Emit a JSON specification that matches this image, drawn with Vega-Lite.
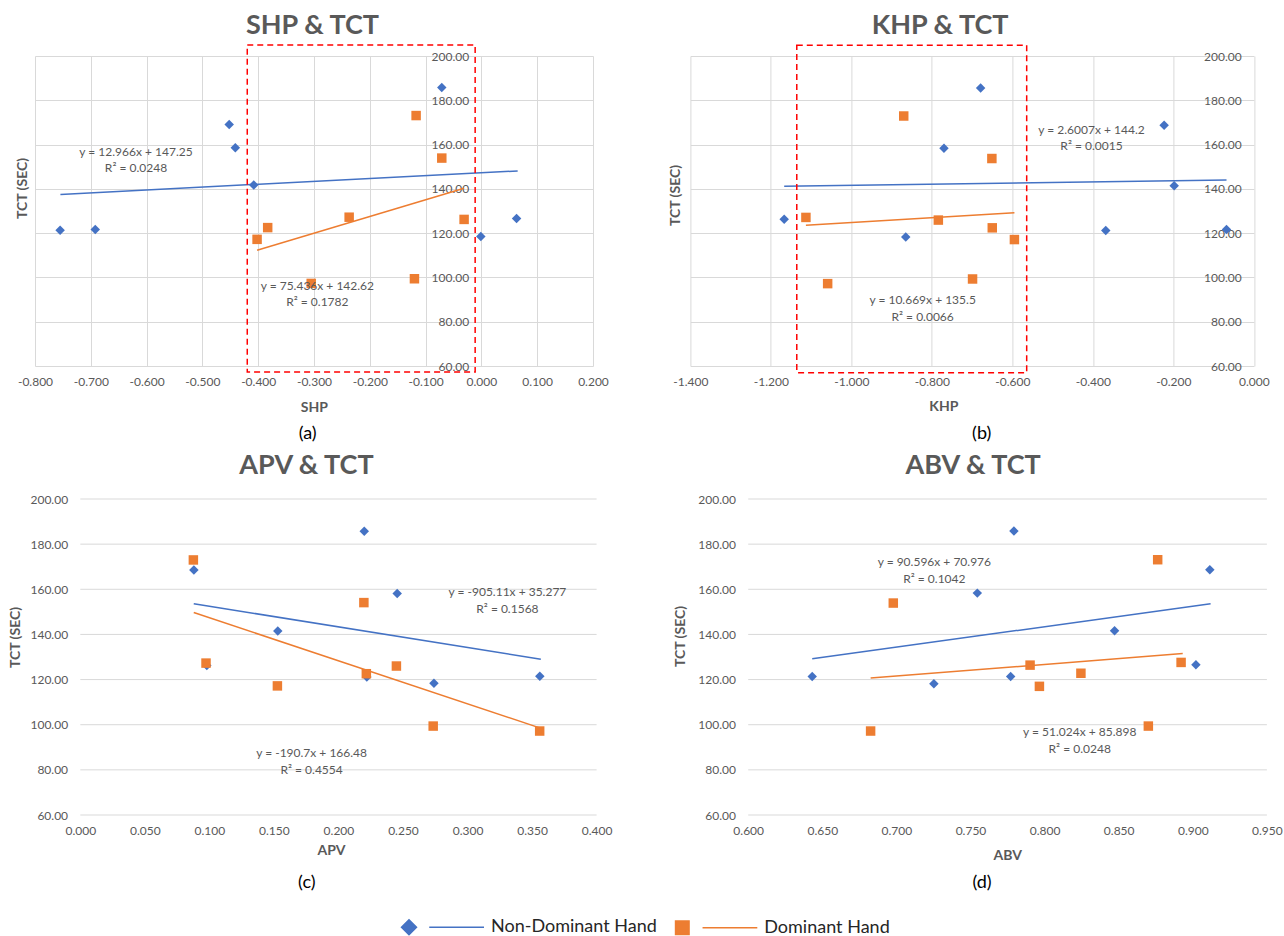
{
  "$schema": "https://vega.github.io/schema/vega-lite/v6.json",
  "background": "white",
  "padding": {"left": 8, "top": 11, "right": 0, "bottom": 0},
  "datasets": {
    "pts": [
      {"p": "a", "hand": "Non-Dominant Hand", "x": -0.755, "tct": 121.3},
      {"p": "a", "hand": "Non-Dominant Hand", "x": -0.692, "tct": 121.6},
      {"p": "a", "hand": "Non-Dominant Hand", "x": -0.452, "tct": 169.1},
      {"p": "a", "hand": "Non-Dominant Hand", "x": -0.441, "tct": 158.6},
      {"p": "a", "hand": "Non-Dominant Hand", "x": -0.408, "tct": 141.7},
      {"p": "a", "hand": "Non-Dominant Hand", "x": -0.071, "tct": 185.8},
      {"p": "a", "hand": "Non-Dominant Hand", "x": -0.001, "tct": 118.5},
      {"p": "a", "hand": "Non-Dominant Hand", "x": 0.063, "tct": 126.6},
      {"p": "a", "hand": "Dominant Hand", "x": -0.117, "tct": 173.1},
      {"p": "a", "hand": "Dominant Hand", "x": -0.071, "tct": 153.9},
      {"p": "a", "hand": "Dominant Hand", "x": -0.402, "tct": 117.2},
      {"p": "a", "hand": "Dominant Hand", "x": -0.383, "tct": 122.5},
      {"p": "a", "hand": "Dominant Hand", "x": -0.237, "tct": 127.2},
      {"p": "a", "hand": "Dominant Hand", "x": -0.031, "tct": 126.2},
      {"p": "a", "hand": "Dominant Hand", "x": -0.305, "tct": 97.3},
      {"p": "a", "hand": "Dominant Hand", "x": -0.120, "tct": 99.4},
      {"p": "b", "hand": "Non-Dominant Hand", "x": -0.679, "tct": 185.6},
      {"p": "b", "hand": "Non-Dominant Hand", "x": -0.770, "tct": 158.3},
      {"p": "b", "hand": "Non-Dominant Hand", "x": -0.223, "tct": 168.7},
      {"p": "b", "hand": "Non-Dominant Hand", "x": -0.198, "tct": 141.4},
      {"p": "b", "hand": "Non-Dominant Hand", "x": -1.167, "tct": 126.3},
      {"p": "b", "hand": "Non-Dominant Hand", "x": -0.865, "tct": 118.3},
      {"p": "b", "hand": "Non-Dominant Hand", "x": -0.368, "tct": 121.2},
      {"p": "b", "hand": "Non-Dominant Hand", "x": -0.068, "tct": 121.6},
      {"p": "b", "hand": "Dominant Hand", "x": -0.870, "tct": 172.9},
      {"p": "b", "hand": "Dominant Hand", "x": -0.651, "tct": 153.7},
      {"p": "b", "hand": "Dominant Hand", "x": -1.113, "tct": 127.1},
      {"p": "b", "hand": "Dominant Hand", "x": -0.784, "tct": 125.9},
      {"p": "b", "hand": "Dominant Hand", "x": -0.650, "tct": 122.4},
      {"p": "b", "hand": "Dominant Hand", "x": -0.595, "tct": 117.1},
      {"p": "b", "hand": "Dominant Hand", "x": -1.059, "tct": 97.2},
      {"p": "b", "hand": "Dominant Hand", "x": -0.699, "tct": 99.3},
      {"p": "c", "hand": "Non-Dominant Hand", "x": 0.088, "tct": 168.5},
      {"p": "c", "hand": "Non-Dominant Hand", "x": 0.098, "tct": 126.2},
      {"p": "c", "hand": "Non-Dominant Hand", "x": 0.153, "tct": 141.5},
      {"p": "c", "hand": "Non-Dominant Hand", "x": 0.220, "tct": 185.7},
      {"p": "c", "hand": "Non-Dominant Hand", "x": 0.222, "tct": 121.1},
      {"p": "c", "hand": "Non-Dominant Hand", "x": 0.2455, "tct": 158.1},
      {"p": "c", "hand": "Non-Dominant Hand", "x": 0.274, "tct": 118.4},
      {"p": "c", "hand": "Non-Dominant Hand", "x": 0.356, "tct": 121.5},
      {"p": "c", "hand": "Dominant Hand", "x": 0.0876, "tct": 173.0},
      {"p": "c", "hand": "Dominant Hand", "x": 0.0974, "tct": 127.3},
      {"p": "c", "hand": "Dominant Hand", "x": 0.1527, "tct": 117.2},
      {"p": "c", "hand": "Dominant Hand", "x": 0.2197, "tct": 154.1},
      {"p": "c", "hand": "Dominant Hand", "x": 0.2216, "tct": 122.6},
      {"p": "c", "hand": "Dominant Hand", "x": 0.2449, "tct": 126.0},
      {"p": "c", "hand": "Dominant Hand", "x": 0.2734, "tct": 99.4},
      {"p": "c", "hand": "Dominant Hand", "x": 0.3559, "tct": 97.2},
      {"p": "d", "hand": "Non-Dominant Hand", "x": 0.6432, "tct": 121.4},
      {"p": "d", "hand": "Non-Dominant Hand", "x": 0.7253, "tct": 118.2},
      {"p": "d", "hand": "Non-Dominant Hand", "x": 0.7546, "tct": 158.3},
      {"p": "d", "hand": "Non-Dominant Hand", "x": 0.7771, "tct": 121.4},
      {"p": "d", "hand": "Non-Dominant Hand", "x": 0.7793, "tct": 185.8},
      {"p": "d", "hand": "Non-Dominant Hand", "x": 0.8472, "tct": 141.6},
      {"p": "d", "hand": "Non-Dominant Hand", "x": 0.9021, "tct": 126.6},
      {"p": "d", "hand": "Non-Dominant Hand", "x": 0.9115, "tct": 168.7},
      {"p": "d", "hand": "Dominant Hand", "x": 0.6826, "tct": 97.2},
      {"p": "d", "hand": "Dominant Hand", "x": 0.6979, "tct": 153.9},
      {"p": "d", "hand": "Dominant Hand", "x": 0.7902, "tct": 126.4},
      {"p": "d", "hand": "Dominant Hand", "x": 0.7965, "tct": 117.0},
      {"p": "d", "hand": "Dominant Hand", "x": 0.8245, "tct": 122.8},
      {"p": "d", "hand": "Dominant Hand", "x": 0.870, "tct": 99.4},
      {"p": "d", "hand": "Dominant Hand", "x": 0.8763, "tct": 173.1},
      {"p": "d", "hand": "Dominant Hand", "x": 0.8921, "tct": 127.6}
    ],
    "trend": [
      {"p": "a", "hand": "Non-Dominant Hand", "x": -0.7545, "tct": 137.5},
      {"p": "a", "hand": "Non-Dominant Hand", "x": 0.065, "tct": 148.1},
      {"p": "a", "hand": "Dominant Hand", "x": -0.402, "tct": 112.3},
      {"p": "a", "hand": "Dominant Hand", "x": -0.031, "tct": 140.3},
      {"p": "b", "hand": "Non-Dominant Hand", "x": -1.167, "tct": 141.2},
      {"p": "b", "hand": "Non-Dominant Hand", "x": -0.068, "tct": 144.0},
      {"p": "b", "hand": "Dominant Hand", "x": -1.113, "tct": 123.6},
      {"p": "b", "hand": "Dominant Hand", "x": -0.595, "tct": 129.2},
      {"p": "c", "hand": "Non-Dominant Hand", "x": 0.0879, "tct": 153.6},
      {"p": "c", "hand": "Non-Dominant Hand", "x": 0.3568, "tct": 129.0},
      {"p": "c", "hand": "Dominant Hand", "x": 0.0879, "tct": 149.7},
      {"p": "c", "hand": "Dominant Hand", "x": 0.3559, "tct": 98.6},
      {"p": "d", "hand": "Non-Dominant Hand", "x": 0.6432, "tct": 129.2},
      {"p": "d", "hand": "Non-Dominant Hand", "x": 0.912, "tct": 153.6},
      {"p": "d", "hand": "Dominant Hand", "x": 0.6826, "tct": 120.7},
      {"p": "d", "hand": "Dominant Hand", "x": 0.8932, "tct": 131.5}
    ],
    "eqs": [
      {"p": "a", "x": -0.619, "tct": 156.65, "label": "y = 12.966x + 147.25\nR² = 0.0248"},
      {"p": "a", "x": -0.294, "tct": 96.25, "label": "y = 75.436x + 142.62\nR² = 0.1782"},
      {"p": "b", "x": -0.4035, "tct": 166.65, "label": "y = 2.6007x + 144.2\nR² = 0.0015"},
      {"p": "b", "x": -0.823, "tct": 89.75, "label": "y = 10.669x + 135.5\nR² = 0.0066"},
      {"p": "c", "x": 0.3309, "tct": 158.75, "label": "y = -905.11x + 35.277\nR² = 0.1568"},
      {"p": "c", "x": 0.1792, "tct": 87.35, "label": "y = -190.7x + 166.48\nR² = 0.4554"},
      {"p": "d", "x": 0.7256, "tct": 171.9, "label": "y = 90.596x + 70.976\nR² = 0.1042"},
      {"p": "d", "x": 0.8237, "tct": 96.6, "label": "y = 51.024x + 85.898\nR² = 0.0248"}
    ],
    "boxes": [
      {"p": "a", "x1": -0.4196, "x2": -0.0112, "y1": 57.3, "y2": 205.0},
      {"p": "b", "x1": -1.1357, "x2": -0.5645, "y1": 57.0, "y2": 204.9}
    ],
    "ygrid": [
      {"tct": 60}, {"tct": 80}, {"tct": 100}, {"tct": 120}, {"tct": 140}, {"tct": 160}, {"tct": 180}, {"tct": 200}
    ]
  },
  "spacing": 10,
  "resolve": {"scale": {"shape": "independent", "color": "independent"}},
  "vconcat": [
    {
      "spacing": 59.4,
      "hconcat": [
        {
          "width": 558, "height": 310,
          "title": {"text": "SHP & TCT", "dx": -1.5, "offset": 4.5},
          "resolve": {"axis": {"x": "independent", "y": "independent"}},
          "layer": [
            {
              "data": {"name": "pts"}, "transform": [{"filter": "datum.p === 'a'"}],
              "mark": {"type": "point", "filled": true, "size": 90, "opacity": 1},
              "encoding": {
                "x": {"field": "x", "type": "quantitative", "scale": {"domain": [-0.8, 0.2], "nice": false, "zero": false},
                  "axis": {"values": [-0.8, -0.7, -0.6, -0.5, -0.4, -0.3, -0.2, -0.1, 0, 0.1, 0.2], "labelExpr": "(datum.value < 0 ? '-' : '') + format(abs(datum.value), '.3f')", "title": "SHP", "titleX": 278.8, "titleY": 41, "titleBaseline": "middle", "titleAlign": "center"}},
                "y": {"field": "tct", "type": "quantitative", "scale": {"domain": [60, 200], "nice": false, "zero": false},
                  "axis": {"orient": "left", "values": [60, 80, 100, 120, 140, 160, 180, 200], "format": ".2f", "offset": -446.4, "title": null}},
                "color": {"field": "hand", "type": "nominal", "scale": {"domain": ["Non-Dominant Hand", "Dominant Hand"], "range": ["#4472C4", "#ED7D31"]}, "legend": null},
                "shape": {"field": "hand", "type": "nominal", "scale": {"domain": ["Non-Dominant Hand", "Dominant Hand"], "range": ["diamond", "square"]}, "legend": null}
              }
            },
            {
              "data": {"name": "trend"}, "transform": [{"filter": "datum.p === 'a'"}],
              "mark": {"type": "line", "strokeWidth": 1.5},
              "encoding": {
                "x": {"field": "x", "type": "quantitative", "scale": {"domain": [-0.8, 0.2], "nice": false, "zero": false}, "axis": null},
                "y": {"field": "tct", "type": "quantitative", "scale": {"domain": [60, 200], "nice": false, "zero": false},
                  "axis": {"orient": "left", "labels": false, "grid": false, "domain": false, "ticks": false, "title": "TCT (SEC)", "titlePadding": 6, "minExtent": 0, "titleY": 132}},
                "color": {"field": "hand", "type": "nominal", "scale": {"domain": ["Non-Dominant Hand", "Dominant Hand"], "range": ["#4472C4", "#ED7D31"]}, "legend": null}
              }
            },
            {
              "data": {"name": "eqs"}, "transform": [{"filter": "datum.p === 'a'"}],
              "mark": {"type": "text", "fontSize": 12, "color": "#595959", "font": "Lato", "lineBreak": "\n", "lineHeight": 16.5, "align": "center", "baseline": "middle"},
              "encoding": {
                "x": {"field": "x", "type": "quantitative", "scale": {"domain": [-0.8, 0.2], "nice": false, "zero": false},
                  "axis": {"orient": "bottom", "title": "(a)", "labels": false, "grid": false, "domain": false, "ticks": false, "titleFontSize": 18, "titleFontWeight": "normal", "titleColor": "#000000", "titleX": 272.2, "titleY": 67, "titleBaseline": "middle", "titleAlign": "center"}},
                "y": {"field": "tct", "type": "quantitative", "scale": {"domain": [60, 200], "nice": false, "zero": false}, "axis": null},
                "text": {"field": "label"}
              }
            },
            {
              "data": {"name": "boxes"}, "transform": [{"filter": "datum.p === 'a'"}],
              "mark": {"type": "rect", "fillOpacity": 0, "fill": "white", "stroke": "#FF0000", "strokeWidth": 1.5, "strokeDash": [6, 4]},
              "encoding": {
                "x": {"field": "x1", "type": "quantitative", "scale": {"domain": [-0.8, 0.2], "nice": false, "zero": false}, "axis": null},
                "x2": {"field": "x2"},
                "y": {"field": "y1", "type": "quantitative", "scale": {"domain": [60, 200], "nice": false, "zero": false}, "axis": null},
                "y2": {"field": "y2"}
              }
            }
          ]
        },
        {
          "width": 563.5, "height": 310,
          "title": {"text": "KHP & TCT", "dx": -32, "offset": 4.5},
          "resolve": {"axis": {"x": "independent", "y": "independent"}},
          "layer": [
            {
              "data": {"name": "pts"}, "transform": [{"filter": "datum.p === 'b'"}],
              "mark": {"type": "point", "filled": true, "size": 90, "opacity": 1},
              "encoding": {
                "x": {"field": "x", "type": "quantitative", "scale": {"domain": [-1.4, 0], "nice": false, "zero": false},
                  "axis": {"values": [-1.4, -1.2, -1, -0.8, -0.6, -0.4, -0.2, 0], "labelExpr": "(datum.value < 0 ? '-' : '') + format(abs(datum.value), '.3f')", "title": "KHP", "titleX": 253, "titleY": 40, "titleBaseline": "middle", "titleAlign": "center"}},
                "y": {"field": "tct", "type": "quantitative", "scale": {"domain": [60, 200], "nice": false, "zero": false},
                  "axis": {"orient": "left", "values": [60, 80, 100, 120, 140, 160, 180, 200], "format": ".2f", "offset": -563.5, "title": null}},
                "color": {"field": "hand", "type": "nominal", "scale": {"domain": ["Non-Dominant Hand", "Dominant Hand"], "range": ["#4472C4", "#ED7D31"]}, "legend": null},
                "shape": {"field": "hand", "type": "nominal", "scale": {"domain": ["Non-Dominant Hand", "Dominant Hand"], "range": ["diamond", "square"]}, "legend": null}
              }
            },
            {
              "data": {"name": "trend"}, "transform": [{"filter": "datum.p === 'b'"}],
              "mark": {"type": "line", "strokeWidth": 1.5},
              "encoding": {
                "x": {"field": "x", "type": "quantitative", "scale": {"domain": [-1.4, 0], "nice": false, "zero": false}, "axis": null},
                "y": {"field": "tct", "type": "quantitative", "scale": {"domain": [60, 200], "nice": false, "zero": false},
                  "axis": {"orient": "left", "labels": false, "grid": false, "domain": false, "ticks": false, "title": "TCT (SEC)", "titlePadding": 8, "minExtent": 0, "titleY": 139}},
                "color": {"field": "hand", "type": "nominal", "scale": {"domain": ["Non-Dominant Hand", "Dominant Hand"], "range": ["#4472C4", "#ED7D31"]}, "legend": null}
              }
            },
            {
              "data": {"name": "eqs"}, "transform": [{"filter": "datum.p === 'b'"}],
              "mark": {"type": "text", "fontSize": 12, "color": "#595959", "font": "Lato", "lineBreak": "\n", "lineHeight": 16.5, "align": "center", "baseline": "middle"},
              "encoding": {
                "x": {"field": "x", "type": "quantitative", "scale": {"domain": [-1.4, 0], "nice": false, "zero": false},
                  "axis": {"orient": "bottom", "title": "(b)", "labels": false, "grid": false, "domain": false, "ticks": false, "titleFontSize": 18, "titleFontWeight": "normal", "titleColor": "#000000", "titleX": 290.8, "titleY": 67, "titleBaseline": "middle", "titleAlign": "center"}},
                "y": {"field": "tct", "type": "quantitative", "scale": {"domain": [60, 200], "nice": false, "zero": false}, "axis": null},
                "text": {"field": "label"}
              }
            },
            {
              "data": {"name": "boxes"}, "transform": [{"filter": "datum.p === 'b'"}],
              "mark": {"type": "rect", "fillOpacity": 0, "fill": "white", "stroke": "#FF0000", "strokeWidth": 1.5, "strokeDash": [6, 4]},
              "encoding": {
                "x": {"field": "x1", "type": "quantitative", "scale": {"domain": [-1.4, 0], "nice": false, "zero": false}, "axis": null},
                "x2": {"field": "x2"},
                "y": {"field": "y1", "type": "quantitative", "scale": {"domain": [60, 200], "nice": false, "zero": false}, "axis": null},
                "y2": {"field": "y2"}
              }
            }
          ]
        }
      ]
    },
    {
      "spacing": 61.2,
      "hconcat": [
        {
          "width": 561.6, "height": 316,
          "title": {"text": "APV & TCT", "dx": -9.4, "offset": 13},
          "resolve": {"axis": {"x": "independent"}},
          "layer": [
            {
              "data": {"name": "ygrid"},
              "mark": {"type": "rule", "color": "#d9d9d9", "strokeWidth": 1},
              "encoding": {
                "x": {"datum": 0, "type": "quantitative", "scale": {"domain": [0, 0.4], "range": [45.3, 561.6], "nice": false, "zero": false}, "axis": null},
                "x2": {"datum": 0.4},
                "y": {"field": "tct", "type": "quantitative", "scale": {"domain": [60, 200], "nice": false, "zero": false}}
              }
            },
            {
              "data": {"name": "pts"}, "transform": [{"filter": "datum.p === 'c'"}],
              "mark": {"type": "point", "filled": true, "size": 90, "opacity": 1},
              "encoding": {
                "x": {"field": "x", "type": "quantitative", "scale": {"domain": [0, 0.4], "range": [45.3, 561.6], "nice": false, "zero": false},
                  "axis": {"values": [0, 0.05, 0.1, 0.15, 0.2, 0.25, 0.3, 0.35, 0.4], "format": ".3f", "title": "APV", "titleX": 295.9, "titleY": 35, "titleBaseline": "middle", "titleAlign": "center"}},
                "y": {"field": "tct", "type": "quantitative", "scale": {"domain": [60, 200], "nice": false, "zero": false},
                  "axis": {"orient": "left", "offset": -45.3, "grid": false, "values": [60, 80, 100, 120, 140, 160, 180, 200], "format": ".2f", "title": "TCT (SEC)", "titlePadding": 7, "minExtent": 0, "titleY": 138}},
                "color": {"field": "hand", "type": "nominal", "scale": {"domain": ["Non-Dominant Hand", "Dominant Hand"], "range": ["#4472C4", "#ED7D31"]}, "legend": null},
                "shape": {"field": "hand", "type": "nominal", "scale": {"domain": ["Non-Dominant Hand", "Dominant Hand"], "range": ["diamond", "square"]}, "legend": null}
              }
            },
            {
              "data": {"name": "trend"}, "transform": [{"filter": "datum.p === 'c'"}],
              "mark": {"type": "line", "strokeWidth": 1.5},
              "encoding": {
                "x": {"field": "x", "type": "quantitative", "scale": {"domain": [0, 0.4], "range": [45.3, 561.6], "nice": false, "zero": false}, "axis": null},
                "y": {"field": "tct", "type": "quantitative", "scale": {"domain": [60, 200], "nice": false, "zero": false}},
                "color": {"field": "hand", "type": "nominal", "scale": {"domain": ["Non-Dominant Hand", "Dominant Hand"], "range": ["#4472C4", "#ED7D31"]}, "legend": null}
              }
            },
            {
              "data": {"name": "eqs"}, "transform": [{"filter": "datum.p === 'c'"}],
              "mark": {"type": "text", "fontSize": 12, "color": "#595959", "font": "Lato", "lineBreak": "\n", "lineHeight": 16.5, "align": "center", "baseline": "middle"},
              "encoding": {
                "x": {"field": "x", "type": "quantitative", "scale": {"domain": [0, 0.4], "range": [45.3, 561.6], "nice": false, "zero": false},
                  "axis": {"orient": "bottom", "title": "(c)", "labels": false, "grid": false, "domain": false, "ticks": false, "titleFontSize": 18, "titleFontWeight": "normal", "titleColor": "#000000", "titleX": 271.3, "titleY": 67, "titleBaseline": "middle", "titleAlign": "center"}},
                "y": {"field": "tct", "type": "quantitative", "scale": {"domain": [60, 200], "nice": false, "zero": false}},
                "text": {"field": "label"}
              }
            }
          ]
        },
        {
          "width": 576.7, "height": 316,
          "title": {"text": "ABV & TCT", "dx": -5.4, "offset": 13},
          "resolve": {"axis": {"x": "independent"}},
          "layer": [
            {
              "data": {"name": "ygrid"},
              "mark": {"type": "rule", "color": "#d9d9d9", "strokeWidth": 1},
              "encoding": {
                "x": {"datum": 0.6, "type": "quantitative", "scale": {"domain": [0.6, 0.95], "range": [58, 576.7], "nice": false, "zero": false}, "axis": null},
                "x2": {"datum": 0.95},
                "y": {"field": "tct", "type": "quantitative", "scale": {"domain": [60, 200], "nice": false, "zero": false}}
              }
            },
            {
              "data": {"name": "pts"}, "transform": [{"filter": "datum.p === 'd'"}],
              "mark": {"type": "point", "filled": true, "size": 90, "opacity": 1},
              "encoding": {
                "x": {"field": "x", "type": "quantitative", "scale": {"domain": [0.6, 0.95], "range": [58, 576.7], "nice": false, "zero": false},
                  "axis": {"values": [0.6, 0.65, 0.7, 0.75, 0.8, 0.85, 0.9, 0.95], "format": ".3f", "title": "ABV", "titleX": 317.1, "titleY": 40, "titleBaseline": "middle", "titleAlign": "center"}},
                "y": {"field": "tct", "type": "quantitative", "scale": {"domain": [60, 200], "nice": false, "zero": false},
                  "axis": {"orient": "left", "offset": -58, "grid": false, "values": [60, 80, 100, 120, 140, 160, 180, 200], "format": ".2f", "title": "TCT (SEC)", "titlePadding": 10.5, "minExtent": 0, "titleY": 137}},
                "color": {"field": "hand", "type": "nominal", "scale": {"domain": ["Non-Dominant Hand", "Dominant Hand"], "range": ["#4472C4", "#ED7D31"]}, "legend": null},
                "shape": {"field": "hand", "type": "nominal", "scale": {"domain": ["Non-Dominant Hand", "Dominant Hand"], "range": ["diamond", "square"]}, "legend": null}
              }
            },
            {
              "data": {"name": "trend"}, "transform": [{"filter": "datum.p === 'd'"}],
              "mark": {"type": "line", "strokeWidth": 1.5},
              "encoding": {
                "x": {"field": "x", "type": "quantitative", "scale": {"domain": [0.6, 0.95], "range": [58, 576.7], "nice": false, "zero": false}, "axis": null},
                "y": {"field": "tct", "type": "quantitative", "scale": {"domain": [60, 200], "nice": false, "zero": false}},
                "color": {"field": "hand", "type": "nominal", "scale": {"domain": ["Non-Dominant Hand", "Dominant Hand"], "range": ["#4472C4", "#ED7D31"]}, "legend": null}
              }
            },
            {
              "data": {"name": "eqs"}, "transform": [{"filter": "datum.p === 'd'"}],
              "mark": {"type": "text", "fontSize": 12, "color": "#595959", "font": "Lato", "lineBreak": "\n", "lineHeight": 16.5, "align": "center", "baseline": "middle"},
              "encoding": {
                "x": {"field": "x", "type": "quantitative", "scale": {"domain": [0.6, 0.95], "range": [58, 576.7], "nice": false, "zero": false},
                  "axis": {"orient": "bottom", "title": "(d)", "labels": false, "grid": false, "domain": false, "ticks": false, "titleFontSize": 18, "titleFontWeight": "normal", "titleColor": "#000000", "titleX": 291.3, "titleY": 67, "titleBaseline": "middle", "titleAlign": "center"}},
                "y": {"field": "tct", "type": "quantitative", "scale": {"domain": [60, 200], "nice": false, "zero": false}},
                "text": {"field": "label"}
              }
            }
          ]
        }
      ]
    },
    {
      "width": 1, "height": 1,
      "data": {"values": [{"hand": "Non-Dominant Hand"}, {"hand": "Dominant Hand"}]},
      "mark": {"type": "point", "size": 0, "opacity": 0, "filled": true},
      "encoding": {
        "color": {"field": "hand", "type": "nominal", "scale": {"domain": ["Non-Dominant Hand", "Dominant Hand"], "range": ["#4472C4", "#ED7D31"]},
          "legend": {"orient": "none", "legendX": 365, "legendY": 17, "direction": "horizontal", "title": null, "symbolSize": 225, "symbolStrokeWidth": 1.5, "symbolOpacity": 1, "labelOffset": 73, "labelLimit": 400, "columnPadding": 15.3, "padding": 0,
            "encode": {"symbols": {"update": {"fill": {"signal": "datum.value === 'Non-Dominant Hand' ? '#4472C4' : '#ED7D31'"}, "stroke": {"signal": "datum.value === 'Non-Dominant Hand' ? '#4472C4' : '#ED7D31'"}, "strokeWidth": {"value": 1.5}, "opacity": {"value": 1}}}}}},
        "shape": {"field": "hand", "type": "nominal", "scale": {"domain": ["Non-Dominant Hand", "Dominant Hand"], "range": ["M-1,0L0,-1L1,0L0,1Z M2.7,0L10,0", "M-0.9,-0.9H0.9V0.9H-0.9Z M2.7,0L10,0"]},
          "legend": {"orient": "none", "legendX": 365, "legendY": 17, "direction": "horizontal", "title": null, "symbolSize": 225, "symbolStrokeWidth": 1.5, "symbolOpacity": 1, "labelOffset": 73, "labelLimit": 400, "columnPadding": 15.3, "padding": 0}}
      }
    }
  ],
  "config": {
    "view": {"stroke": null},
    "font": "Lato",
    "axis": {"labelFont": "Lato", "labelFontSize": 12, "labelColor": "#595959", "labelFlush": false, "titleFont": "Lato", "titleFontSize": 14, "titleFontWeight": "bold", "titleColor": "#595959", "gridColor": "#d9d9d9", "gridWidth": 1, "domain": false, "ticks": false, "tickSize": 0, "labelPadding": 10},
    "axisY": {"labelPadding": 12.7},
    "title": {"font": "Lato", "fontSize": 27, "fontWeight": "bold", "color": "#595959", "anchor": "middle", "frame": "group", "baseline": "alphabetic"},
    "legend": {"labelFont": "Lato", "labelFontSize": 18, "labelColor": "#262626"}
  }
}
